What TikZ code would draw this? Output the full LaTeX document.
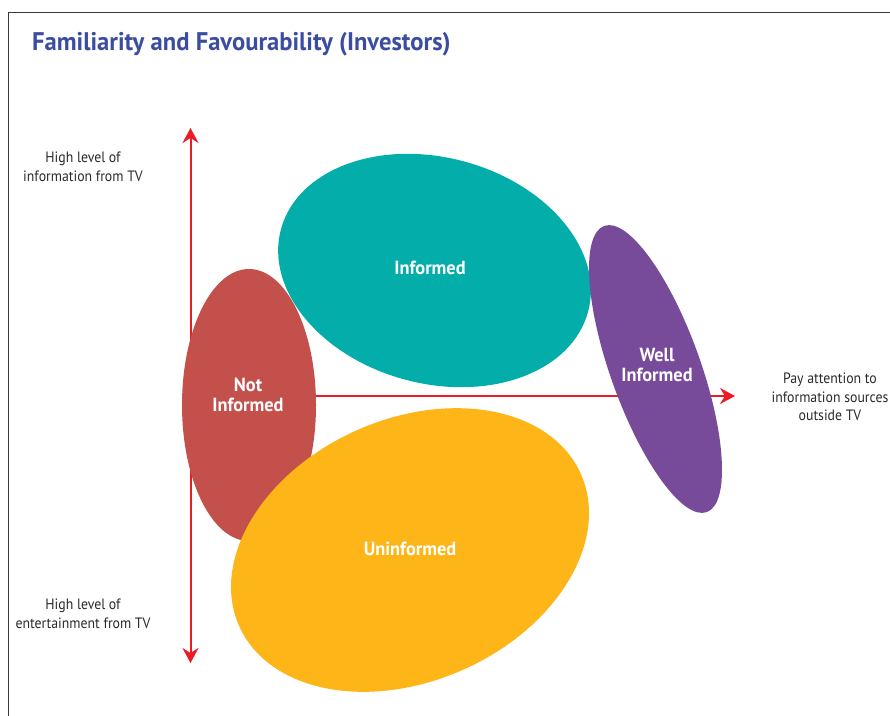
\documentclass[tikz,border=0pt]{standalone}
\usepackage{fontspec}
\setmainfont{PT Sans}[FakeStretch=0.92]
\newfontfamily\headfont{PT Sans}[FakeStretch=0.965]
\usetikzlibrary{arrows.meta}

\definecolor{titleblue}{HTML}{3A4DA0}
\definecolor{axisred}{HTML}{ED1C24}
\definecolor{inkgray}{HTML}{2B2B2B}
\definecolor{framegray}{HTML}{3A3A3A}
\definecolor{tealblob}{HTML}{03ADA9}
\definecolor{redblob}{HTML}{C4504B}
\definecolor{yellowblob}{HTML}{FDB517}
\definecolor{purpleblob}{HTML}{784A9A}

\begin{document}
\begin{tikzpicture}[x=1pt,y=-1pt,
  axis/.style={draw=axisred, line width=2pt,
    -{Stealth[length=15pt,width=16pt,inset=5pt]}},
  axistwo/.style={draw=axisred, line width=2pt,
    {Stealth[length=15pt,width=16pt,inset=5pt]}-{Stealth[length=15pt,width=16pt,inset=5pt]}},
  sidetext/.style={align=center, text=inkgray, inner sep=0pt,
    font=\fontsize{15}{18.5}\selectfont},
  blobtext/.style={align=center, text=white, inner sep=0pt,
    font=\headfont\bfseries\fontsize{19}{19.5}\selectfont}]

\useasboundingbox (0,0) rectangle (890,715);
\fill[white] (0,0) rectangle (890,715);

% frame
\draw[framegray, line width=1pt] (8,730) -- (8,12) -- (900,12);

% title
\node[anchor=base west, inner sep=0pt, text=titleblue,
  font=\headfont\bfseries\fontsize{25.5}{30}\selectfont] (title) at (32,50)
  {Familiarity and Favourability (Investors)};

% axes
\coordinate (origin) at (190.5,396);
\coordinate (vtop) at (190.5,128);
\coordinate (vbot) at (190.5,663);
\coordinate (hend) at (735,396);
\draw[axistwo] (vbot) -- (vtop);
\draw[axis] (origin) -- (hend);

% groups
\fill[redblob] (249,405) ellipse [x radius=67, y radius=136];
\fill[tealblob, rotate around={-15:(434.5,270.5)}] (434.5,270.5) ellipse [x radius=159, y radius=113];
\fill[yellowblob, rotate around={24:(410,550)}] (410,550) ellipse [x radius=187, y radius=131];
\fill[purpleblob, rotate around={19.7:(655.5,369)}] (655.5,369) ellipse [x radius=45, y radius=152];

% group labels
\node[blobtext] (informed) at (430,268) {Informed};
\node[blobtext] (notinformed) at (248,395) {Not\\Informed};
\node[blobtext] (uninformed) at (410,549) {Uninformed};
\node[blobtext] (wellinformed) at (657,365) {Well\\Informed};

% axis labels
\node[sidetext] (infotv) at (83,167) {High level of\\information from TV};
\node[sidetext] (enttv) at (83,614) {High level of\\entertainment from TV};
\node[sidetext] (outside) at (830,397) {Pay attention to\\information sources\\outside TV};
\end{tikzpicture}
\end{document}
